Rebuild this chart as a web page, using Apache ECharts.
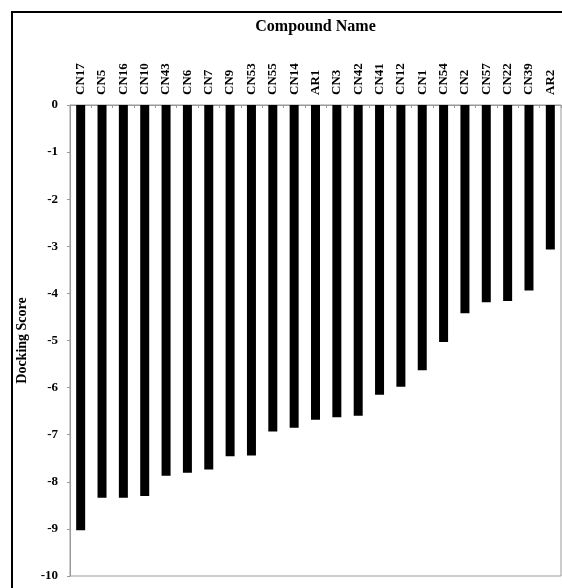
<!DOCTYPE html>
<html>
<head>
<meta charset="utf-8">
<script src="https://cdn.jsdelivr.net/npm/echarts@6/dist/echarts.min.js"></script>
<style>html,body{margin:0;padding:0;background:#fff}#c{width:562px;height:588px}</style>
</head>
<body>
<div id="c"></div>
<script>
var categories = ['CN17','CN5','CN16','CN10','CN43','CN6','CN7','CN9','CN53','CN55','CN14','AR1','CN3','CN42','CN41','CN12','CN1','CN54','CN2','CN57','CN22','CN39','AR2'];
var scores = [-9.03,-8.34,-8.34,-8.30,-7.87,-7.81,-7.74,-7.46,-7.44,-6.93,-6.85,-6.68,-6.63,-6.60,-6.15,-5.98,-5.63,-5.03,-4.42,-4.19,-4.16,-3.94,-3.07];
var yTicks = {min: -10, max: 0, interval: 1};

var font = '"Liberation Serif","Times New Roman",serif';
var chart = echarts.init(document.getElementById('c'));
chart.setOption({
  animation: false,
  backgroundColor: '#fff',
  graphic: [{
    type: 'rect', shape: {x: 12, y: 12, width: 700, height: 700},
    style: {fill: 'none', stroke: '#000', lineWidth: 2}, silent: true
  }],
  grid: {left: 70, right: 1, top: 105, bottom: 12, show: true, borderColor: '#999', borderWidth: 1},
  xAxis: {
    type: 'category', position: 'top', data: categories,
    name: 'Compound Name', nameLocation: 'middle', nameGap: 70,
    nameTextStyle: {fontFamily: font, fontWeight: 'bold', fontSize: 16, color: '#000'},
    axisLine: {lineStyle: {color: '#999'}},
    axisTick: {show: true, length: 3, inside: true, lineStyle: {color: '#999'}},
    axisLabel: {rotate: 90, interval: 0, margin: 10, fontFamily: font, fontWeight: 'bold', fontSize: 13, color: '#000'}
  },
  yAxis: {
    type: 'value', min: yTicks.min, max: yTicks.max, interval: yTicks.interval,
    name: 'Docking Score', nameLocation: 'middle', nameGap: 37,
    nameTextStyle: {fontFamily: font, fontWeight: 'bold', fontSize: 14, color: '#000'},
    axisLine: {show: true, lineStyle: {color: '#999'}},
    axisTick: {show: true, length: 3, lineStyle: {color: '#999'}},
    splitLine: {show: false},
    axisLabel: {margin: 12, fontFamily: font, fontWeight: 'bold', fontSize: 13, color: '#000'}
  },
  series: [{
    type: 'bar', data: scores, barWidth: 9,
    itemStyle: {color: '#000'}
  }]
});
</script>
</body>
</html>
